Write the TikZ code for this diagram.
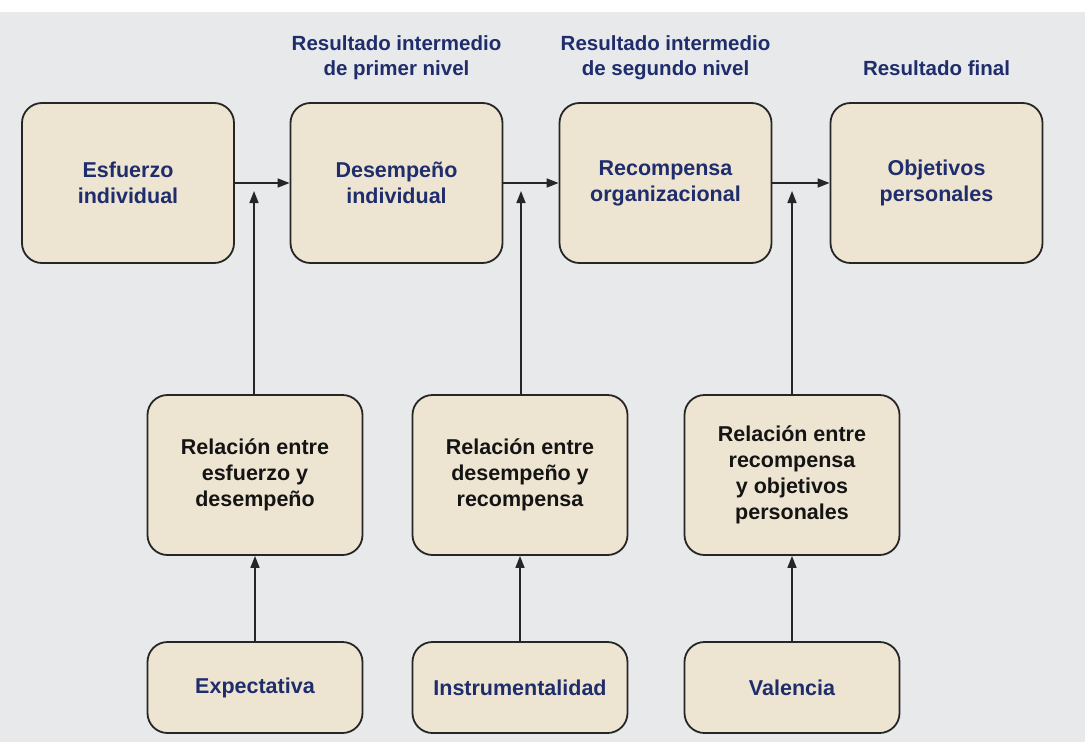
\documentclass[tikz,border=0pt]{standalone}
\usepackage{fontspec}
\setmainfont{Liberation Sans}
\usetikzlibrary{arrows.meta}
\definecolor{navy}{HTML}{1F2D6C}
\definecolor{boxfill}{HTML}{EDE5D1}
\definecolor{paper}{HTML}{E7E9EA}
\definecolor{edge}{HTML}{262626}
\definecolor{ink}{HTML}{141414}
\begin{document}
\begin{tikzpicture}[x=1pt,y=-1pt,
  box/.style={draw=edge, line width=1.8pt, fill=boxfill, rounded corners=20pt,
    inner sep=0pt, align=center, font=\fontsize{21.5}{26}\selectfont\bfseries},
  topbox/.style={box, minimum width=212pt, minimum height=160pt, text=navy},
  midbox/.style={box, minimum width=215pt, minimum height=160pt, text=ink},
  lowbox/.style={box, minimum width=215pt, minimum height=91pt, text=navy},
  head/.style={inner sep=0pt, align=center, text=navy, font=\fontsize{20.5}{25}\selectfont\bfseries},
  conn/.style={draw=edge, line width=1.6pt, -{Triangle[length=12pt,width=9pt]}}]
\fill[paper] (0,0) rectangle (1085,742);
\fill[white] (0,0) rectangle (1085,12);
\useasboundingbox (0,0) rectangle (1085,742);

% headings
\node[head, anchor=north] (h1) at (396.5,35) {Resultado intermedio\\de primer nivel};
\node[head, anchor=north] (h2) at (665.5,35) {Resultado intermedio\\de segundo nivel};
\node[head, anchor=base] (h3) at (936.5,75) {Resultado final};

% top row
\node[topbox] (t1) at (128,183) {Esfuerzo\\individual};
\node[topbox] (t2) at (396.5,183) {Desempeño\\individual};
\node[topbox] (t3) at (665.5,183) {Recompensa\\organizacional};
\node[topbox] (t4) at (936.5,183) {Objetivos\\personales};

% middle row
\node[midbox] (m1) at (255,475) {Relación entre\\esfuerzo y\\desempeño};
\node[midbox] (m2) at (520,475) {Relación entre\\desempeño y\\recompensa};
\node[midbox] (m3) at (792,475) {Relación entre\\recompensa\\y objetivos\\personales};

% bottom row
\node[lowbox] (b1) at (255,687.5) {Expectativa};
\node[lowbox] (b2) at (520,687.5) {Instrumentalidad};
\node[lowbox] (b3) at (792,687.5) {Valencia};

% arrow tips between top boxes
\coordinate (a1) at (254,191);
\coordinate (a2) at (521,191);
\coordinate (a3) at (792,191);

\draw[conn] (t1) -- (t2);
\draw[conn] (t2) -- (t3);
\draw[conn] (t3) -- (t4);
\draw[conn] (m1.north -| a1) -- (a1);
\draw[conn] (m2.north -| a2) -- (a2);
\draw[conn] (m3.north -| a3) -- (a3);
\draw[conn] (b1) -- (m1);
\draw[conn] (b2) -- (m2);
\draw[conn] (b3) -- (m3);
\end{tikzpicture}
\end{document}
